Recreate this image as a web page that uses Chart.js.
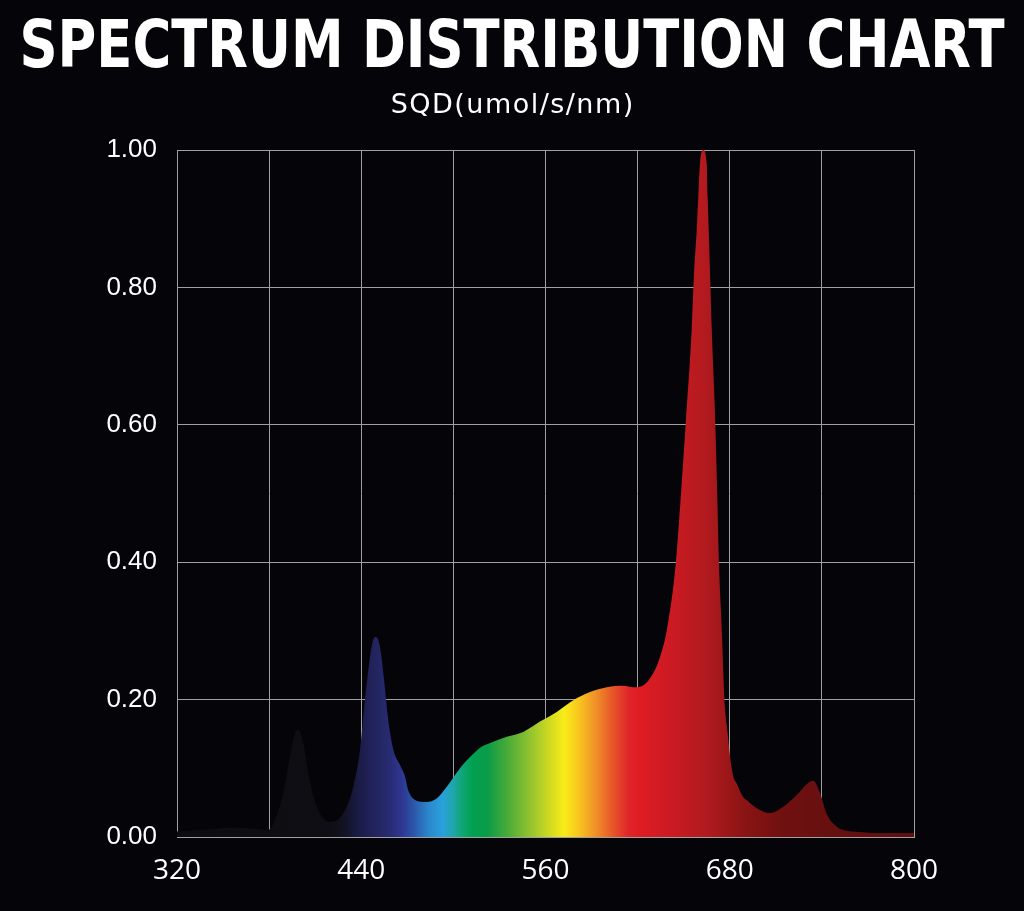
<!DOCTYPE html>
<html><head><meta charset="utf-8">
<script src="https://cdn.jsdelivr.net/npm/chart.js@4/dist/chart.umd.min.js"></script>
<style>
html,body{margin:0;padding:0;background:#050509;overflow:hidden;}
#wrap{width:1024px;height:911px;position:relative;}
canvas{display:block;}
</style>
</head><body>
<div id="wrap"><canvas id="c" width="1024" height="911"></canvas></div>
<script>
// ---- data ----
const titleText = 'SPECTRUM DISTRIBUTION CHART';
const subtitleText = 'SQD(umol/s/nm)';
const wavelengths = [320,340,357,370,379,383,389.2,393.6,396.9,399,402.3,405.5,408.8,413.1,419.6,424,430.5,434.8,439.2,442.4,445.7,447.8,449.6,452.2,454.4,457.6,460.9,465.2,468.5,470.6,475,482.6,489.1,495.7,504.3,513,518,523.9,534.7,545.5,556.4,567.3,578.1,589,599.9,610.7,617.2,623.8,630.3,634.6,639,644.8,648.1,651.5,655.2,656.7,658.5,659.5,660.6,662.8,665,665.6,666.3,667.2,668.3,670.5,671.9,673,674.8,676.9,678.4,680.2,682.3,684.5,688.8,691,697.6,706.2,714.9,723.6,731.2,734.4,738.8,743.1,749.7,756.2,767,773.5,800];
const sqd = [0.008,0.011,0.014,0.012,0.010,0.020,0.064,0.117,0.151,0.156,0.136,0.093,0.059,0.034,0.022,0.024,0.044,0.073,0.127,0.199,0.262,0.287,0.291,0.277,0.238,0.170,0.127,0.105,0.088,0.068,0.054,0.051,0.056,0.073,0.100,0.121,0.131,0.137,0.146,0.153,0.168,0.182,0.199,0.211,0.218,0.220,0.218,0.221,0.239,0.262,0.301,0.397,0.495,0.608,0.738,0.818,0.884,0.932,0.980,1.000,0.980,0.932,0.884,0.818,0.738,0.608,0.495,0.397,0.301,0.188,0.156,0.117,0.088,0.078,0.058,0.054,0.042,0.035,0.044,0.061,0.079,0.082,0.064,0.034,0.015,0.009,0.007,0.006,0.006];
const xTickValues = [320,380,440,500,560,620,680,740,800];
const xTickLabels = ['320','','440','','560','','680','','800'];
const yTickValues = [0,0.2,0.4,0.6,0.8,1.0];
const yTickLabels = ['0.00','0.20','0.40','0.60','0.80','1.00'];

// ---- style ----
const spectrumStops = [
  [320,'#0c0c10'],[420,'#0e0e14'],[430,'#131326'],[438,'#1b1b46'],[448,'#22235c'],
  [458,'#272b70'],[466,'#2e3590'],[474,'#2c55a8'],[484,'#2a88cc'],[493,'#2aa0dc'],
  [500,'#1fa6a8'],[507,'#0ca56c'],[513,'#00a050'],[522,'#0a9c48'],[535,'#48aa38'],
  [548,'#88c030'],[560,'#c4d424'],[572,'#f8ec18'],[582,'#f8c41e'],[592,'#f09428'],
  [603,'#e85a28'],[614,'#e0262a'],[620,'#e01c24'],[645,'#c81a22'],[665,'#b01a1e'],
  [690,'#8a1414'],[715,'#701010'],[740,'#681010'],[800,'#5e0e0e']
];
const gridColor = '#a0a0a0';
const titleFamily = '"DejaVu Sans Condensed", "DejaVu Sans", sans-serif';
const subFamily = '"DejaVu Sans", sans-serif';
const titleSize = 66, subSize = 27;
const sidePad = 19.5;            // title box = 1024 - 2*19.5 = 985 px wide (text fitted to it)
const subTargetWidth = 244;
const titleTop = 17;
const subCenter = 105.5;

const points = wavelengths.map((w,i)=>({x:w, y:sqd[i]}));

const chart = new Chart(document.getElementById('c'), {
  type: 'line',
  data: { datasets: [{
    data: points,
    fill: 'origin',
    borderWidth: 0,
    borderColor: 'rgba(0,0,0,0)',
    pointRadius: 0,
    cubicInterpolationMode: 'monotone',
    backgroundColor: (ctx) => {
      const chart = ctx.chart;
      if (!chart.chartArea) return '#c01a20';
      const xs = chart.scales.x;
      const x0 = xs.getPixelForValue(320), x1 = xs.getPixelForValue(800);
      const g = chart.ctx.createLinearGradient(x0, 0, x1, 0);
      spectrumStops.forEach(([nm,c]) => g.addColorStop((nm-320)/480, c));
      return g;
    }
  }]},
  options: {
    responsive: false,
    devicePixelRatio: 1,
    animation: false,
    layout: { padding: { left: sidePad, right: sidePad, top: 0, bottom: 0 } },
    plugins: {
      legend: { display: false },
      tooltip: { enabled: false },
      title: {
        display: true, text: titleText, color: '#ffffff',
        font: { family: titleFamily, size: titleSize, weight: 'bold', lineHeight: 1 },
        padding: { top: titleTop, bottom: 0 }
      },
      subtitle: {
        display: true, text: subtitleText, color: '#ffffff',
        font: { family: subFamily, size: subSize, weight: 'normal', lineHeight: 1 },
        padding: { top: subCenter - subSize/2 - (titleTop + titleSize), bottom: 150 - (subCenter + subSize/2) }
      }
    },
    scales: {
      x: {
        type: 'linear', min: 320, max: 800,
        afterBuildTicks: (s) => { s.ticks = xTickValues.map(v => ({value: v})); },
        afterFit: (s) => { s.height = 74; },
        ticks: {
          color: '#ffffff', padding: 17, maxRotation: 0, autoSkip: false,
          font: { family: '"Open Sans", sans-serif', size: 28, lineHeight: 1.2 },
          callback: (v) => { const i = xTickValues.indexOf(v); return i >= 0 ? xTickLabels[i] : ''; }
        },
        grid: { color: gridColor, lineWidth: 1, drawTicks: false },
        border: { color: gridColor, width: 1 }
      },
      y: {
        min: 0, max: 1,
        afterBuildTicks: (s) => { s.ticks = yTickValues.map(v => ({value: v})); },
        afterFit: (s) => { s.width = 177 - sidePad; },
        ticks: {
          color: '#ffffff', padding: 20,
          font: { family: '"Liberation Sans", Arial, sans-serif', size: 26 },
          callback: (v) => { const i = yTickValues.findIndex(t => Math.abs(t - v) < 1e-9); return i >= 0 ? yTickLabels[i] : ''; }
        },
        grid: { color: gridColor, lineWidth: 1, drawTicks: false },
        border: { color: gridColor, width: 1 }
      },
      spacer: {
        type: 'linear', position: 'right', display: true,
        afterFit: (s) => { s.width = 110 - sidePad; },
        ticks: { display: false },
        grid: { display: false, drawOnChartArea: false },
        border: { display: false }
      }
    }
  }
});

// letter spacing for the subtitle box, measured with the drawing context
chart.boxes.forEach(b => {
  if (!b.options || b.options.text !== subtitleText) return;
  const orig = b.draw.bind(b);
  b.draw = function(area){
    const ctx = this.ctx;
    ctx.save();
    ctx.font = Chart.helpers.toFont(this.options.font).string;
    if ('letterSpacing' in ctx) ctx.letterSpacing = '0px';
    const w = ctx.measureText(this.options.text).width;
    const sp = Math.max(0, (subTargetWidth - w) / this.options.text.length);
    if ('letterSpacing' in ctx) ctx.letterSpacing = sp + 'px';
    ctx.translate(sp / 2, 0);
    orig(area);
    ctx.restore();
  };
});
chart.draw();
</script>
</body></html>
